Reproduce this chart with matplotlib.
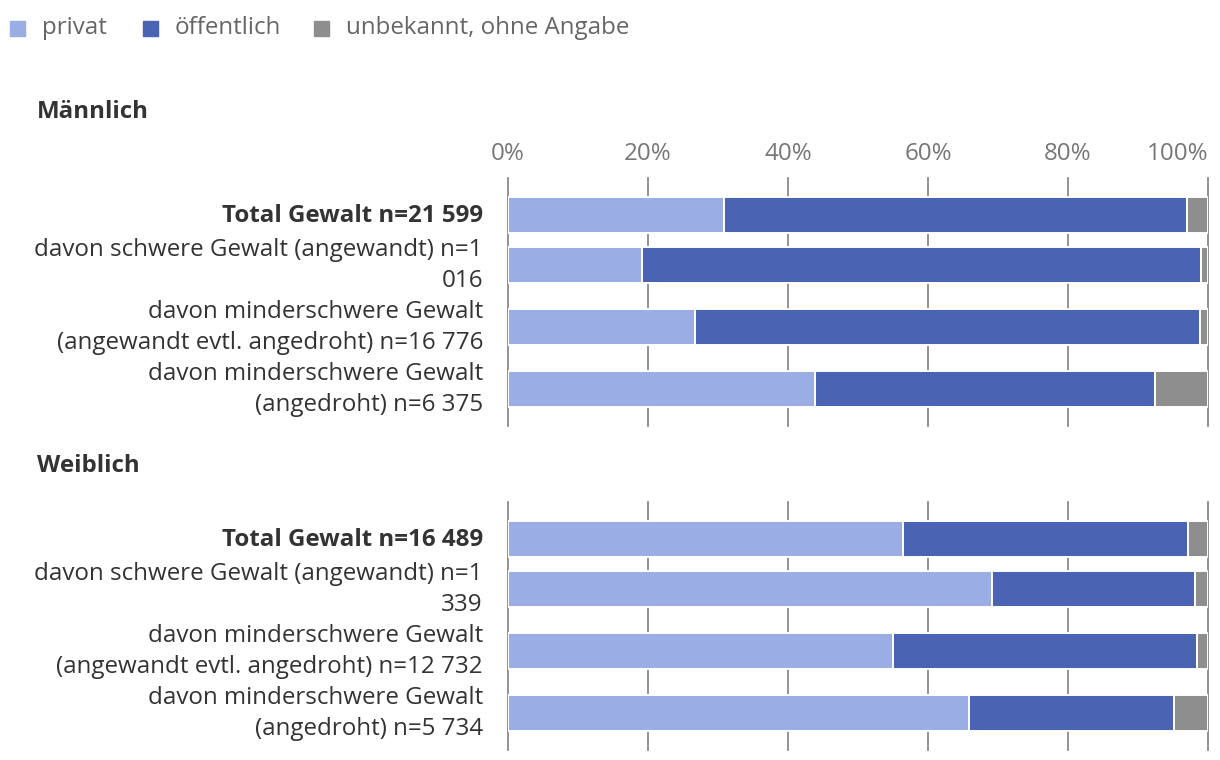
import matplotlib.pyplot as plt
import numpy as np
from matplotlib.patches import Rectangle

plt.rcParams["font.family"] = ["Open Sans", "Noto Sans", "DejaVu Sans"]

# Daten (Anteile in %)
labels_m = ["Total Gewalt n=21 599",
            "davon schwere Gewalt (angewandt) n=1\n016",
            "davon minderschwere Gewalt\n(angewandt evtl. angedroht) n=16 776",
            "davon minderschwere Gewalt\n(angedroht) n=6 375"]
privat_m = [30.8, 19.2, 26.7, 43.8]
oeffentlich_m = [66.2, 79.8, 72.1, 48.6]
unbekannt_m = [3.0, 1.0, 1.2, 7.6]

labels_w = ["Total Gewalt n=16 489",
            "davon schwere Gewalt (angewandt) n=1\n339",
            "davon minderschwere Gewalt\n(angewandt evtl. angedroht) n=12 732",
            "davon minderschwere Gewalt\n(angedroht) n=5 734"]
privat_w = [56.4, 69.2, 55.0, 65.8]
oeffentlich_w = [40.8, 28.9, 43.4, 29.4]
unbekannt_w = [2.8, 1.9, 1.6, 4.8]

series_names = ["privat", "öffentlich", "unbekannt, ohne Angabe"]
colors = ["#9aade5", "#4a63b2", "#8e8e8e"]
ticks = [0, 20, 40, 60, 80, 100]

W, H = 1220, 760
FS = 17.4
fig = plt.figure(figsize=(W / 100, H / 100), dpi=100)


def draw_panel(top_px, labels, parts, show_x=True):
    # Zeilenhöhe hängt von der Anzahl Textzeilen ab
    nlines = [lab.count("\n") + 1 for lab in labels]
    row_h = np.array([12 + 25 * n for n in nlines])
    edges = np.concatenate([[0], np.cumsum(row_h)])
    centers = (edges[:-1] + edges[1:]) / 2
    ymin = centers[0] - 37
    ymax = centers[-1] + 37
    h_px = ymax - ymin
    ax = fig.add_axes([508 / W, 1 - (top_px + h_px) / H, 700 / W, h_px / H])
    for t in ticks:
        ax.axvline(t, color="#8a8a8a", lw=1.3, zorder=0, clip_on=False)
    left = np.zeros(len(labels))
    for vals, c in zip(parts, colors):
        ax.barh(centers, vals, left=left, height=36, color=c,
                edgecolor="white", linewidth=1.4, zorder=2)
        left = left + np.array(vals)
    ax.set_xlim(0, 100)
    ax.set_ylim(ymax, ymin)
    ax.set_yticks([])
    for i, (yc, lab) in enumerate(zip(centers, labels)):
        ax.text(-25 / 700, yc + 1, lab, transform=ax.get_yaxis_transform(),
                ha="right", va="center", ma="right", fontsize=FS,
                color="#333333", linespacing=1.38,
                fontweight="bold" if i == 0 else "normal")
    ax.set_xticks([])
    if show_x:
        for t in ticks:
            ax.text(t, 1 + 12 / h_px, f"{t}%", transform=ax.get_xaxis_transform(),
                    ha="right" if t == 100 else "center", va="bottom",
                    fontsize=FS, color="#777777")
    for s in ax.spines.values():
        s.set_visible(False)
    return ax


ax_m = draw_panel(178, labels_m, [privat_m, oeffentlich_m, unbekannt_m])
ax_w = draw_panel(502, labels_w, [privat_w, oeffentlich_w, unbekannt_w], show_x=False)

fig.text(37 / W, 1 - 112 / H, "Männlich", fontsize=FS, fontweight="bold",
         color="#333333", va="center")
fig.text(37 / W, 1 - 466 / H, "Weiblich", fontsize=FS, fontweight="bold",
         color="#333333", va="center")

# Legende
leg_x = [10, 143, 314]
for x0, name, c in zip(leg_x, series_names, colors):
    fig.patches.append(Rectangle((x0 / W, 1 - 36 / H), 15 / W, 15 / H,
                                 transform=fig.transFigure, color=c))
    fig.text((x0 + 32) / W, 1 - 28 / H, name, fontsize=FS, color="#666666",
             va="center")

fig.savefig("out.png", dpi=100, facecolor="white")
